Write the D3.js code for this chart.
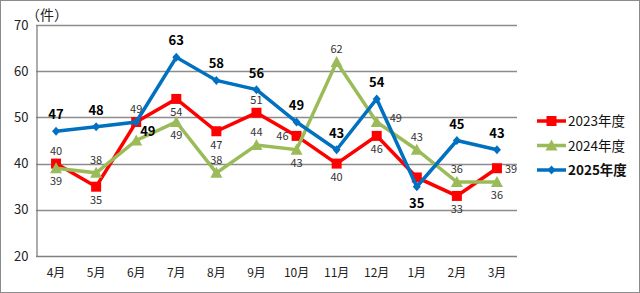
<!DOCTYPE html>
<html>
<head>
<meta charset="utf-8">
<script src="https://cdn.jsdelivr.net/npm/d3@7"></script>
<style>
  body { margin: 0; background: #fff; }
  text { font-family: "Noto Sans CJK JP", "Noto Sans", sans-serif; }
</style>
</head>
<body>
<svg id="chart"></svg>
<script>
// data
let months = ["4月", "5月", "6月", "7月", "8月", "9月", "10月", "11月", "12月", "1月", "2月", "3月"];
let fy2023 = [40, 35, 49, 54, 47, 51, 46, 40, 46, 37, 33, 39];
let fy2024 = [39, 38, 45, 49, 38, 44, 43, 62, 49, 43, 36, 36];
let fy2025 = [47, 48, 49, 63, 58, 56, 49, 43, 54, 35, 45, 43];
let yTicks = [20, 30, 40, 50, 60, 70];

// where each data label sits (t = top, b = bottom, l = left, r = right, R = further right, rb = right-below, n = none)
let pos2023 = ["t", "b", "t", "b", "b", "t", "l", "b", "b", "n", "b", "r"];
let pos2024 = ["b", "t", "n", "b", "t", "t", "b", "t", "R", "t", "t", "b"];
let pos2025 = ["t", "t", "rb", "t", "t", "t", "t", "t", "t", "b", "t", "t"];

let W = 640, H = 293;
let plot = { left: 36, right: 517, top: 25, bottom: 256 };

let svg = d3.select("#chart").attr("width", W).attr("height", H);

// outer frame
svg.append("rect")
  .attr("x", 0.5).attr("y", 0.5)
  .attr("width", W - 1).attr("height", H - 1)
  .style("fill", "#fff").style("stroke", "#8c8c8c");

let x = d3.scaleBand()
  .domain(months)
  .range([plot.left, plot.right]);

let y = d3.scaleLinear()
  .domain([20, 70])
  .range([plot.bottom, plot.top]);

// gridlines
svg.append("g")
  .selectAll("line")
  .data(yTicks)
  .enter()
  .append("line")
  .attr("x1", plot.left).attr("x2", plot.right)
  .attr("y1", d => Math.round(y(d)) + 0.5)
  .attr("y2", d => Math.round(y(d)) + 0.5)
  .style("stroke", d => d == 20 ? "#808080" : "#8c8c8c")
  .style("stroke-width", 1.3);

// y axis
let yaxis = d3.axisLeft(y).tickValues(yTicks).tickSize(0).tickPadding(8);
let gy = svg.append("g")
  .attr("transform", `translate(${plot.left + 0.5},0)`)
  .call(yaxis);
gy.select(".domain").style("stroke", "#808080").style("stroke-width", 1.3);
gy.selectAll("text").style("font-size", "13px").style("fill", "#222");

// x axis labels
let xaxis = d3.axisBottom(x).tickSize(0).tickPadding(12);
let gx = svg.append("g")
  .attr("transform", `translate(0,${plot.bottom})`)
  .call(xaxis);
gx.select(".domain").remove();
gx.selectAll("text").style("font-size", "12px").style("fill", "#222");

// unit label
svg.append("text")
  .attr("x", 26).attr("y", 20)
  .text("（件）")
  .style("font-size", "14px")
  .style("fill", "#222");

let cx = m => x(m) + x.bandwidth() / 2;

let series = [
  { name: "2023年度", values: fy2023, pos: pos2023, color: "#ff0000", marker: "square", bold: false },
  { name: "2024年度", values: fy2024, pos: pos2024, color: "#9bbb59", marker: "triangle", bold: false },
  { name: "2025年度", values: fy2025, pos: pos2025, color: "#0070c0", marker: "diamond", bold: true }
];

function markerPath(type) {
  if (type == "square") return "M-5,-5H5V5H-5Z";
  if (type == "triangle") return "M0,-6L6,5H-6Z";
  return "M0,-4.5L4,0L0,4.5L-4,0Z";
}

let line = d3.line()
  .x((d, i) => cx(months[i]))
  .y(d => y(d));

series.forEach(s => {
  let g = svg.append("g");
  g.append("path")
    .datum(s.values)
    .attr("d", line)
    .style("fill", "none")
    .style("stroke", s.color)
    .style("stroke-width", 3.5)
    .style("stroke-linejoin", "miter");

  g.selectAll("path.mk")
    .data(s.values)
    .enter()
    .append("path")
    .attr("class", "mk")
    .attr("transform", (d, i) => `translate(${cx(months[i])},${y(d)})`)
    .attr("d", markerPath(s.marker))
    .style("fill", s.color);
});

// data labels drawn last so they sit on top
series.forEach(s => {
  let size = s.bold ? 13 : 11;
  let off = s.bold ? 12 : 9;
  svg.append("g")
    .selectAll("text")
    .data(s.values.map((v, i) => ({ v: v, i: i, p: s.pos[i] })).filter(d => d.p != "n"))
    .enter()
    .append("text")
    .attr("x", d => {
      let px = cx(months[d.i]);
      if (d.p == "l") return px - 8;
      if (d.p == "r") return px + 8;
      if (d.p == "R") return px + 13;
      if (d.p == "rb") return px + 4;
      return px;
    })
    .attr("y", d => {
      let py = y(d.v);
      if (d.p == "t") return py - off;
      if (d.p == "b") return py + off + size * 0.75;
      if (d.p == "rb") return py + 14;
      if (d.p == "R") return py;
      return py + size * 0.4;
    })
    .attr("text-anchor", d => d.p == "l" ? "end" : (d.p == "r" || d.p == "R" || d.p == "rb") ? "start" : "middle")
    .text(d => d.v)
    .style("font-size", size + "px")
    .style("font-weight", s.bold ? "bold" : "normal")
    .style("fill", s.bold ? "#000" : "#333");
});

// legend
let legend = svg.append("g");
series.forEach((s, k) => {
  let ly = 121 + k * 24.5;
  legend.append("line")
    .attr("x1", 537).attr("x2", 566)
    .attr("y1", ly).attr("y2", ly)
    .style("stroke", s.color).style("stroke-width", 3.5);
  legend.append("path")
    .attr("transform", `translate(551.5,${ly})`)
    .attr("d", markerPath(s.marker))
    .style("fill", s.color);
  legend.append("text")
    .attr("x", 568).attr("y", ly + 5)
    .text(s.name)
    .style("font-size", "13.5px")
    .style("font-weight", s.bold ? "bold" : "normal")
    .style("fill", "#111");
});
</script>
</body>
</html>
